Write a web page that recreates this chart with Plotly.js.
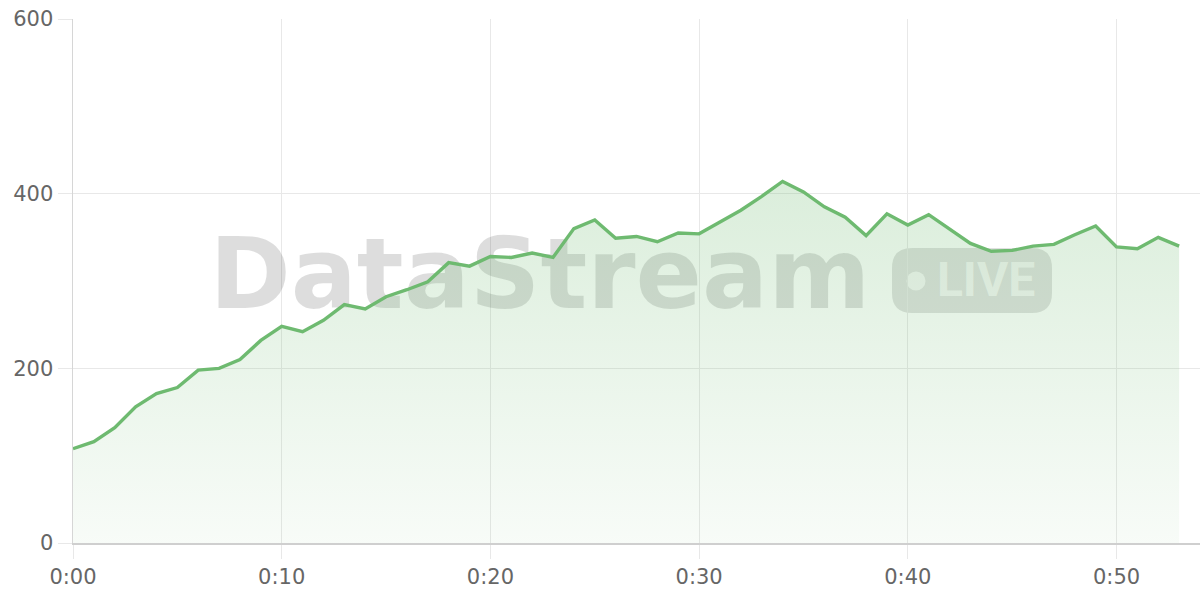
<!DOCTYPE html>
<html>
<head>
<meta charset="utf-8">
<script src="https://cdn.plot.ly/plotly-3.0.1.min.js"></script>
<style>
  html, body { margin: 0; padding: 0; background: #ffffff; }
  #chart { width: 1200px; height: 600px; }
</style>
</head>
<body>
<div id="chart"></div>
<script>
// ---- data ----
const minutes = [0,1,2,3,4,5,6,7,8,9,10,11,12,13,14,15,16,17,18,19,20,21,22,23,24,25,26,27,28,29,30,31,32,33,34,35,36,37,38,39,40,41,42,43,44,45,46,47,48,49,50,51,52,53];
const values = [108,116,132,156,171,178,198,200,210,232,248,242,255,273,268,282,290,299,321,317,328,327,332,327,360,370,349,351,345,355,354,367,381,397,414,402,385,373,352,377,364,376,360,343,334,335,340,342,353,363,339,337,350,340];
const xTickVals = [0,10,20,30,40,50];
const xTickText = ["0:00","0:10","0:20","0:30","0:40","0:50"];
const yTickVals = [0,200,400,600];
const watermarkText = "DataStream";
const badgeText = "LIVE";

// ---- layout geometry (pixels) ----
const W = 1200, H = 600;
const M = {l: 73, r: 0, t: 19, b: 57};
const plotW = W - M.l - M.r, plotH = H - M.t - M.b;
const px2paperX = px => (px - M.l) / plotW;
const px2paperY = py => (H - M.b - py) / plotH;

// rounded badge path in paper coords
function roundedRect(x0, y0, x1, y1, r) {
  const X = px2paperX, Y = px2paperY;
  return [
    `M ${X(x0 + r)} ${Y(y0)}`,
    `L ${X(x1 - r)} ${Y(y0)}`,
    `Q ${X(x1)} ${Y(y0)} ${X(x1)} ${Y(y0 + r)}`,
    `L ${X(x1)} ${Y(y1 - r)}`,
    `Q ${X(x1)} ${Y(y1)} ${X(x1 - r)} ${Y(y1)}`,
    `L ${X(x0 + r)} ${Y(y1)}`,
    `Q ${X(x0)} ${Y(y1)} ${X(x0)} ${Y(y1 - r)}`,
    `L ${X(x0)} ${Y(y0 + r)}`,
    `Q ${X(x0)} ${Y(y0)} ${X(x0 + r)} ${Y(y0)}`,
    'Z'
  ].join(' ');
}

const green = 'rgb(110,186,112)';

const traces = [
  // watermark text (below the data)
  {
    type: 'scatter', mode: 'text',
    x: [22.37], y: [297],
    text: [watermarkText],
    textposition: 'middle center',
    textfont: {family: 'DejaVu Sans', size: 98, weight: 'bold', color: 'rgba(0,0,0,0.135)'},
    hoverinfo: 'skip', showlegend: false, cliponaxis: false
  },
  {
    type: 'scatter', mode: 'text',
    x: [43.75], y: [296],
    text: [badgeText],
    textposition: 'middle center',
    textfont: {family: 'Roboto, DejaVu Sans', size: 48, weight: 'bold', color: 'rgba(255,255,255,0.7)'},
    hoverinfo: 'skip', showlegend: false, cliponaxis: false
  },
  // data
  {
    type: 'scatter', mode: 'lines',
    x: minutes, y: values,
    line: {color: green, width: 3.4, shape: 'linear'},
    fill: 'tozeroy',
    fillgradient: {
      type: 'vertical',
      colorscale: [[0, 'rgba(110,186,112,0.05)'], [1, 'rgba(110,186,112,0.25)']]
    },
    hoverinfo: 'x+y', showlegend: false
  }
];

const layout = {
  width: W, height: H,
  margin: M,
  paper_bgcolor: '#ffffff',
  plot_bgcolor: '#ffffff',
  showlegend: false,
  font: {family: 'DejaVu Sans', color: '#666666'},
  xaxis: {
    range: [0, 54],
    tickvals: xTickVals, ticktext: xTickText,
    showgrid: true, gridcolor: '#e8e8e8', gridwidth: 1,
    ticks: 'outside', ticklen: 14, tickcolor: '#e8e8e8', tickwidth: 1,
    showline: true, linecolor: '#cfcfcf', linewidth: 2,
    zeroline: false,
    tickfont: {family: 'DejaVu Sans', size: 21, color: '#666666'},
    fixedrange: true
  },
  yaxis: {
    range: [0, 600],
    tickvals: yTickVals,
    showgrid: true, gridcolor: '#e8e8e8', gridwidth: 1,
    ticks: 'outside', ticklen: 14, tickcolor: '#e8e8e8', tickwidth: 1,
    showline: true, linecolor: '#d6d6d6', linewidth: 1.5,
    zeroline: false,
    tickfont: {family: 'DejaVu Sans', size: 21, color: '#666666'},
    fixedrange: true
  },
  shapes: [
    {
      type: 'path', xref: 'paper', yref: 'paper', layer: 'below',
      path: roundedRect(892, 248, 1052, 313, 20),
      fillcolor: 'rgba(0,0,0,0.12)', line: {width: 0}
    },
    {
      type: 'circle', xref: 'paper', yref: 'paper', layer: 'below',
      x0: px2paperX(906.5), x1: px2paperX(925.5),
      y0: px2paperY(290.5), y1: px2paperY(271.5),
      fillcolor: 'rgba(255,255,255,0.7)', line: {width: 0}
    }
  ]
};

Plotly.newPlot('chart', traces, layout, {displayModeBar: false, staticPlot: true});
</script>
</body>
</html>
